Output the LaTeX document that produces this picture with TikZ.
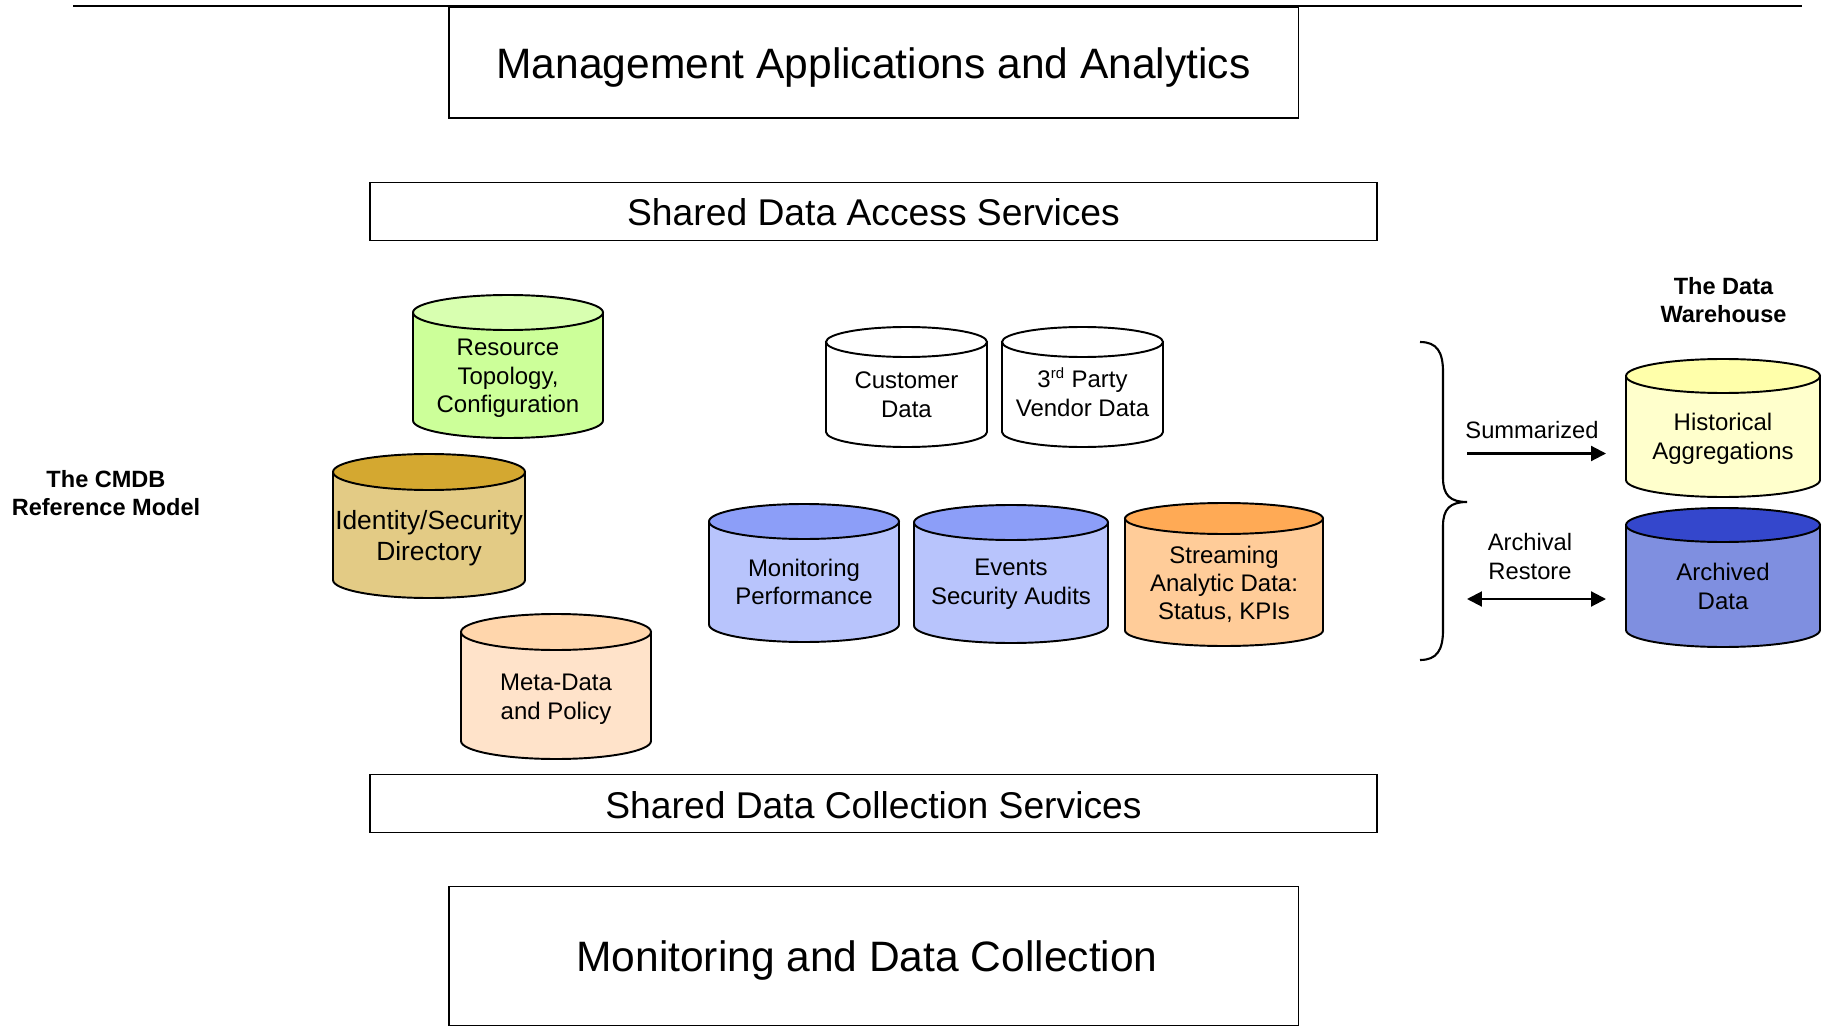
\documentclass[tikz,border=0pt]{standalone}
\usepackage{fontspec}
\setmainfont{Liberation Sans}
\usetikzlibrary{arrows.meta}

\definecolor{resTop}{HTML}{D8FFB0}
\definecolor{resBody}{HTML}{CCFF99}
\definecolor{idTop}{HTML}{D4A830}
\definecolor{idBody}{HTML}{E3CB85}
\definecolor{metaTop}{HTML}{FFD6AC}
\definecolor{metaBody}{HTML}{FFE3CA}
\definecolor{monTop}{HTML}{8C9EF8}
\definecolor{monBody}{HTML}{B8C4FC}
\definecolor{strTop}{HTML}{FFAA55}
\definecolor{strBody}{HTML}{FFCC99}
\definecolor{histTop}{HTML}{FFFFAA}
\definecolor{histBody}{HTML}{FFFFCC}
\definecolor{arcTop}{HTML}{3447CC}
\definecolor{arcBody}{HTML}{7F8FE0}

\tikzset{
  layerbox/.style={draw=black, line width=1.1pt, fill=white},
  bigtext/.style={font=\fontsize{24.2}{29}\selectfont},
  midtext/.style={font=\fontsize{21.2}{25}\selectfont},
  cylline/.style={draw=black, line width=1.1pt},
  cyltext/.style={align=center, inner sep=0pt, font=\fontsize{13.65}{16.3}\selectfont},
  boldlabel/.style={align=center, inner sep=0pt, font=\bfseries\fontsize{13.4}{15.9}\selectfont},
  flowlabel/.style={align=center, inner sep=0pt, font=\fontsize{13.5}{16.5}\selectfont},
  flowarrow/.style={line width=1.2pt, -{Triangle[length=8.5pt,width=8.5pt]}},
  bothflow/.style={line width=1.2pt, {Triangle[length=8.5pt,width=8.5pt]}-{Triangle[length=8.5pt,width=8.5pt]}},
}

% database cylinder: #1 left, #2 right, #3 top, #4 bottom, #5 cap radius, #6 cap colour, #7 body colour
\newcommand\dbcylinder[7]{%
  \pgfmathsetmacro\cylrx{(#2-#1)/2*0.02}%
  \pgfmathsetmacro\cylry{#5*0.02}%
  \pgfmathsetmacro\cylcx{(#1+#2)/2}%
  \pgfmathsetmacro\cylty{#3+#5}%
  \pgfmathsetmacro\cylby{#4-#5}%
  \filldraw[cylline, fill=#7] (#1,\cylty) -- (#1,\cylby)
     arc[start angle=180, end angle=360, x radius=\cylrx cm, y radius=\cylry cm]
     -- (#2,\cylty) -- cycle;
  \filldraw[cylline, fill=#6] (\cylcx,\cylty) ellipse[x radius=\cylrx cm, y radius=\cylry cm];
}

\begin{document}
\begin{tikzpicture}[x=0.02cm, y=-0.02cm]
\useasboundingbox (0,0) rectangle (1829,1027);

% rule across the top
\coordinate (ruleL) at (73,6);
\coordinate (ruleR) at (1802,6);
\draw[line width=1.2pt] (ruleL) -- (ruleR);

% layer boxes
\draw[layerbox] (449,7) rectangle (1298.5,118);
\node[bigtext] (mgmt) at (873.5,67.5) {Management Applications and Analytics};

\draw[layerbox] (370,182.5) rectangle (1377,240.5);
\node[midtext] (access) at (873.5,212) {Shared Data Access Services};

\draw[layerbox] (370,774.5) rectangle (1377,832.5);
\node[midtext] (collect) at (873.5,805.5) {Shared Data Collection Services};

\draw[layerbox] (449,886.5) rectangle (1298.5,1025.5);
\node[bigtext] (monitor) at (867,960.5) {Monitoring and Data Collection};

% CMDB stores
\dbcylinder{413}{603}{295}{438}{17.5}{resTop}{resBody}
\node[cyltext] (resource) at (508,378.5) {Resource\\Topology,\\Configuration};

\dbcylinder{333}{525}{454}{598}{18}{idTop}{idBody}
\node[cyltext, font=\fontsize{15}{17.6}\selectfont] (identity) at (429,538) {Identity/Security\\Directory};

\dbcylinder{461}{651}{614}{759}{18}{metaTop}{metaBody}
\node[cyltext] (meta) at (556,699.5) {Meta-Data\\and Policy};

\dbcylinder{826}{987}{327}{447}{15}{white}{white}
\node[cyltext] (customer) at (906.5,395) {Customer\\Data};

\dbcylinder{1002}{1163}{327}{447}{15}{white}{white}
\node[cyltext] (vendor) at (1082.5,394) {3\smash{\textsuperscript{\fontsize{8.5}{9}\selectfont rd}} Party\\Vendor Data};

\dbcylinder{709}{899}{504}{642}{17.5}{monTop}{monBody}
\node[cyltext] (perf) at (804,582) {Monitoring\\Performance};

\dbcylinder{914}{1108}{505}{643}{17.5}{monTop}{monBody}
\node[cyltext] (events) at (1011,584.5) {Events\\Security Audits};

\dbcylinder{1125}{1323}{503}{646}{15.5}{strTop}{strBody}
\node[cyltext, font=\fontsize{13.65}{15.9}\selectfont] (stream) at (1224,584) {Streaming\\Analytic Data:\\Status, KPIs};

% data warehouse stores
\dbcylinder{1626}{1820}{359}{497}{17}{histTop}{histBody}
\node[cyltext] (hist) at (1723,438.5) {Historical\\Aggregations};

\dbcylinder{1626}{1820}{508}{647}{17}{arcTop}{arcBody}
\node[cyltext] (archived) at (1723,586.5) {Archived\\Data};

% side labels
\node[boldlabel] (cmdb) at (106,493) {The CMDB\\Reference Model};
\node[boldlabel] (warehouse) at (1723.5,300.5) {The Data\\Warehouse};

% brace gathering the operational stores
\coordinate (braceTop) at (1420,342);
\coordinate (braceMid) at (1467,502);
\coordinate (braceBot) at (1420,660);
\draw[line width=1.2pt] (braceTop)
  .. controls (1437,342) and (1443,352) .. (1443,372)
  -- (1443,478)
  .. controls (1443,495) and (1450,502) .. (braceMid)
  .. controls (1450,502) and (1443,509) .. (1443,526)
  -- (1443,630)
  .. controls (1443,650) and (1437,660) .. (braceBot);

% flows into the warehouse
\node[flowlabel] (sumlabel) at (1532,430.5) {Summarized};
\coordinate (sumFrom) at (1467,453.5);
\coordinate (sumTo) at (1606,453.5);
\draw[flowarrow] (sumFrom) -- (sumTo);

\node[flowlabel] (arclabel) at (1530,557) {Archival\\Restore};
\coordinate (arcFrom) at (1467,599);
\coordinate (arcTo) at (1606,599);
\draw[bothflow] (arcFrom) -- (arcTo);
\end{tikzpicture}
\end{document}
